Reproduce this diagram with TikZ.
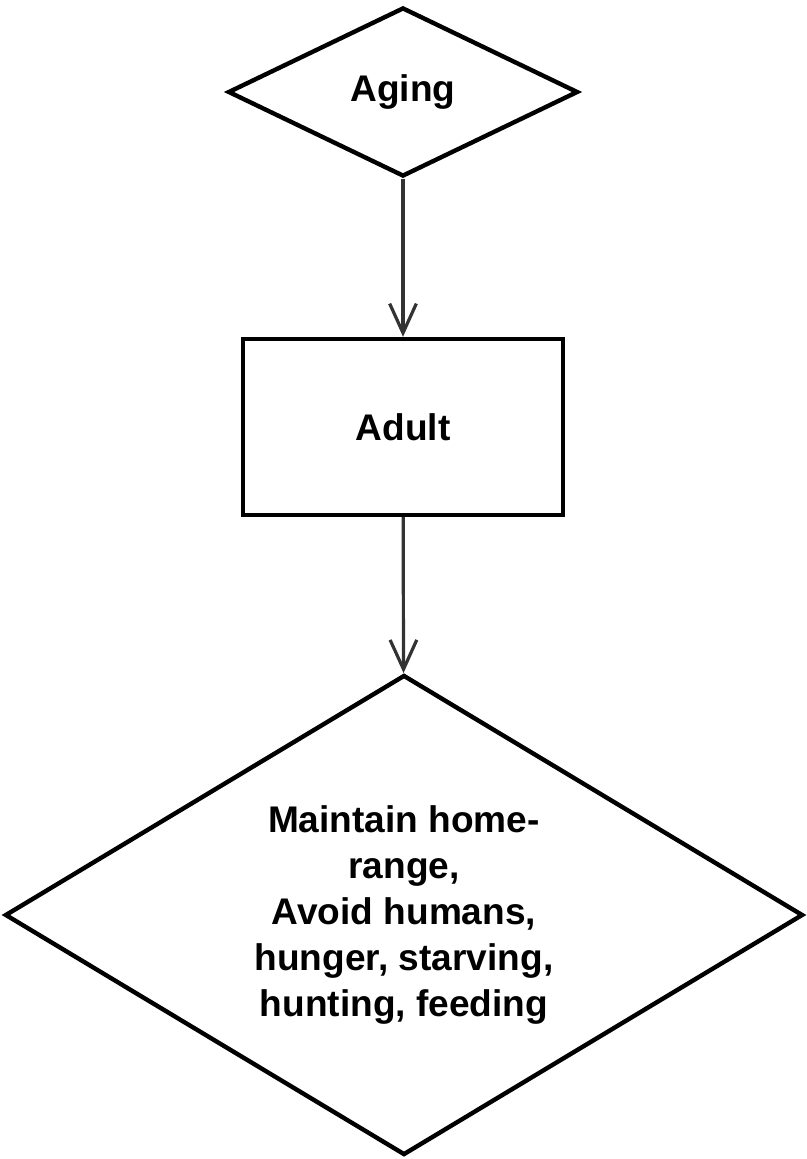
\documentclass[tikz,border=0pt]{standalone}
\usepackage{fontspec}
\setmainfont{Liberation Sans}
\usetikzlibrary{shapes.geometric, arrows.meta, positioning}

\begin{document}
\begin{tikzpicture}[x=0.75pt, y=-0.75pt,
    every node/.style={font=\fontsize{27.8}{34.5}\selectfont\bfseries},
    decision/.style={diamond, draw=black, line width=3.3pt, inner sep=0pt, align=center},
    stage/.style={rectangle, draw=black, line width=3.3pt, minimum width=240pt, minimum height=132pt},
    flow/.style={-{Straight Barb[length=22pt, width=20pt]}, line width=2.4pt, black!80}]
        \useasboundingbox (0,0) rectangle (806,1159);

        % Aging
        \node[decision, shape aspect=2, minimum width=262.5pt, minimum height=126.75pt] (aging) at (403,92) {Aging};

        % Adult
        \node[stage] (adult) at (403,427) {Adult};

        % Behaviour
        \node[decision, shape aspect=1.66, minimum width=598.5pt, minimum height=360pt] (behave) at (404,915)
            {Maintain home-\\range,\\Avoid humans,\\hunger, starving,\\hunting, feeding};

        % Connecting arrows
        \draw[flow] (aging) -- (adult);
        \draw[flow] (adult) -- (behave);
    \end{tikzpicture}
\end{document}
